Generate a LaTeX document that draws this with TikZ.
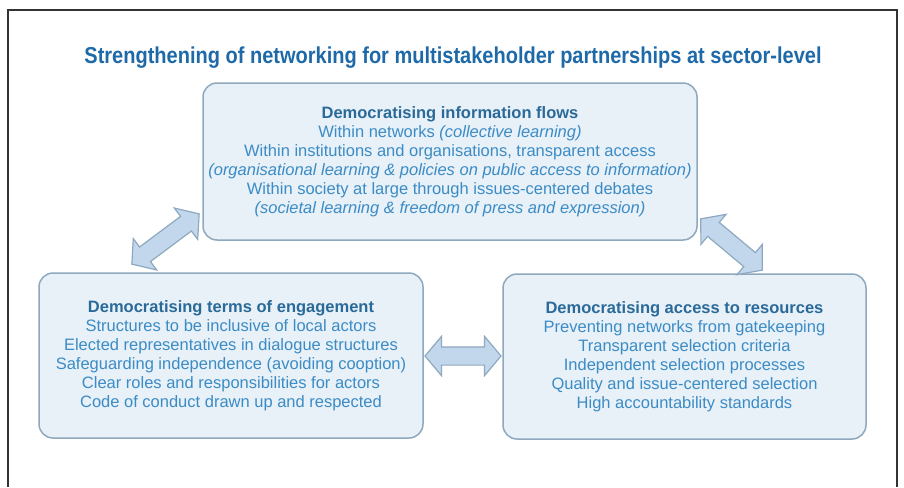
\documentclass[tikz,border=0pt]{standalone}
\usepackage{fontspec}
\setmainfont{Liberation Sans}
\newfontfamily\titlefont[FakeStretch=0.87]{Liberation Sans}
\usetikzlibrary{shapes.arrows}
\definecolor{titleblue}{HTML}{1E69A8}
\definecolor{headblue}{HTML}{2A6A99}
\definecolor{bodyblue}{HTML}{3B8CC5}
\definecolor{boxfill}{HTML}{E8F0F8}
\definecolor{boxline}{HTML}{8EA9BE}
\definecolor{arrowfill}{HTML}{C2D7EC}
\definecolor{arrowline}{HTML}{8DA8C0}
\newcommand\boxhead[1]{\textcolor{headblue}{\bfseries #1}}

\begin{document}
\begin{tikzpicture}[x=1pt,y=-1pt,
  areabox/.style={draw=boxline,line width=1.5pt,rounded corners=14pt,fill=boxfill,text=bodyblue,
    align=center,inner sep=0pt,font=\fontsize{16.5}{19}\selectfont},
  linkarrow/.style={double arrow,draw=arrowline,fill=arrowfill,line width=1.2pt,inner sep=0pt,
    inner ysep=8.5pt,minimum width=0pt,double arrow head extend=10.5pt,double arrow tip angle=100}]
  \useasboundingbox (0,0) rectangle (904,487);
  \draw[black!80,line width=1.2pt] (8,487) -- (8,10) -- (897,10) -- (897,487);

  \node[font=\titlefont\bfseries\fontsize{23}{27}\selectfont,text=titleblue] (title) at (453,58)
    {Strengthening of networking for multistakeholder partnerships at sector-level};

  \node[areabox,minimum width=494,minimum height=157] (flows) at (450,161.5)
    {\boxhead{Democratising information flows}\\
     Within networks \textit{(collective learning)}\\
     Within institutions and organisations, transparent access\\
     \textit{(organisational learning \& policies on public access to information)}\\
     Within society at large through issues-centered debates\\
     \textit{(societal learning \& freedom of press and expression)}};
  \node[areabox,minimum width=384,minimum height=165] (terms) at (231,355.5)
    {\boxhead{Democratising terms of engagement}\\
     Structures to be inclusive of local actors\\
     Elected representatives in dialogue structures\\
     Safeguarding independence (avoiding cooption)\\
     Clear roles and responsibilities for actors\\
     Code of conduct drawn up and respected};
  \node[areabox,minimum width=363,minimum height=165] (access) at (684.5,356.5)
    {\boxhead{Democratising access to resources}\\
     Preventing networks from gatekeeping\\
     Transparent selection criteria\\
     Independent selection processes\\
     Quality and issue-centered selection\\
     High accountability standards};

  % two-way links between the boxes
  \coordinate (lt1) at (132,264); \coordinate (lt2) at (199,214);
  \path (lt1) -- (lt2) node[midway,sloped,linkarrow,minimum height=84] (leftlink) {};
  \coordinate (rt1) at (701,219); \coordinate (rt2) at (762,270);
  \path (rt1) -- (rt2) node[midway,sloped,linkarrow,minimum height=80] (rightlink) {};
  \path (terms.east) -- (access.west) node[midway,linkarrow,minimum height=76] (midlink) {};
\end{tikzpicture}
\end{document}
